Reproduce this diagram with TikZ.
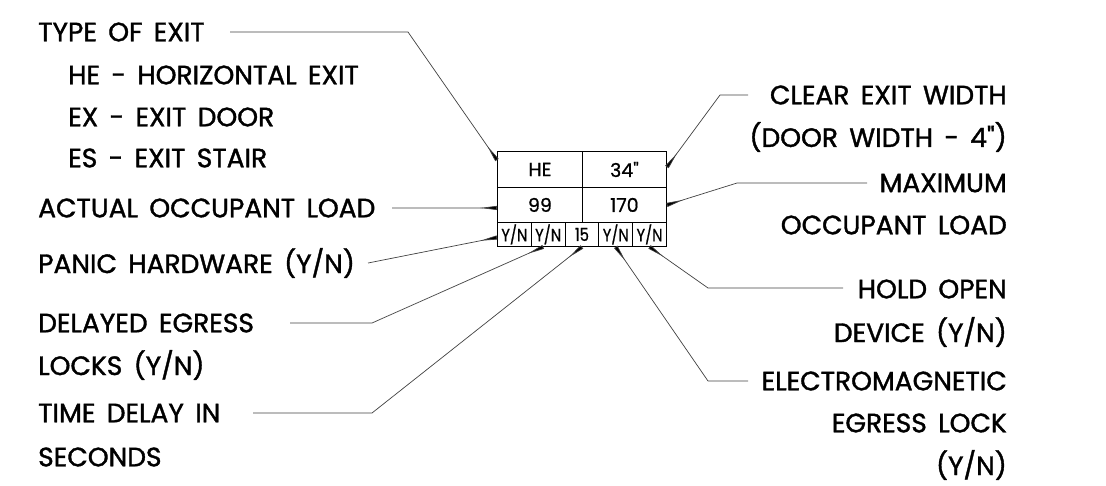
\documentclass[tikz,border=0pt]{standalone}
\usepackage{fontspec}
\setmainfont{Poppins}
\newfontfamily\lblfont{Poppins}[FakeBold=1.4,WordSpace=1.6]
\newfontfamily\boxfont{Poppins}[FakeBold=0.8]
\usetikzlibrary{arrows.meta}
\begin{document}
\begin{tikzpicture}[x=1pt,y=-1pt,
  lbl/.style={font=\lblfont\fontsize{26.5}{29}\selectfont, inner sep=0pt},
  cell/.style={draw=black, line width=0.9pt, inner sep=0pt, font=\boxfont\fontsize{19}{20}\selectfont},
  small/.style={draw=black, line width=0.9pt, inner sep=0pt, minimum width=33.8pt, minimum height=24pt, font=\boxfont\fontsize{18}{19}\selectfont},
  leader/.style={draw=black!75, line width=0.7pt, -{Triangle[reversed,length=17pt,width=4pt,fill=black]}}
]
\useasboundingbox (0,0) rectangle (1106,485);
% table
\node[cell, minimum width=85pt, minimum height=36pt, anchor=north west] (he) at (497,151) {HE};
\node[cell, minimum width=84pt, minimum height=36pt, anchor=north west] (w34) at (582,151) {34"};
\node[cell, minimum width=85pt, minimum height=35pt, anchor=north west] (a99) at (497,187) {99};
\node[cell, minimum width=84pt, minimum height=35pt, anchor=north west] (m170) at (582,187) {170};
\node[small, anchor=north west] (c1) at (497,222) {\scalebox{0.82}[1]{Y/N}};
\node[small, anchor=north west] (c2) at (530.8,222) {\scalebox{0.82}[1]{Y/N}};
\node[small, anchor=north west] (c3) at (564.6,222) {\scalebox{0.82}[1]{15}};
\node[small, anchor=north west] (c4) at (598.4,222) {\scalebox{0.82}[1]{Y/N}};
\node[small, anchor=north west] (c5) at (632.2,222) {\scalebox{0.82}[1]{Y/N}};
% left labels
\node[lbl, anchor=west] (typ) at (38,32) {TYPE OF EXIT};
\node[lbl, anchor=west] (he1) at (68,75) {HE - HORIZONTAL EXIT};
\node[lbl, anchor=west] (ex1) at (68,117) {EX - EXIT DOOR};
\node[lbl, anchor=west] (es1) at (68,158) {ES - EXIT STAIR};
\node[lbl, anchor=west] (act) at (38,208) {ACTUAL OCCUPANT LOAD};
\node[lbl, anchor=west] (pan) at (38,263) {PANIC HARDWARE (Y/N)};
\node[lbl, anchor=west] (del) at (38,323) {DELAYED EGRESS};
\node[lbl, anchor=west] (del2) at (38,365) {LOCKS (Y/N)};
\node[lbl, anchor=west] (tim) at (38,413) {TIME DELAY IN};
\node[lbl, anchor=west] (tim2) at (38,457) {SECONDS};
% right labels
\node[lbl, anchor=east] (clr) at (1007,95) {CLEAR EXIT WIDTH};
\node[lbl, anchor=east] (clr2) at (1007,137) {(DOOR WIDTH - 4")};
\node[lbl, anchor=east] (mx) at (1007,183) {MAXIMUM};
\node[lbl, anchor=east] (mx2) at (1007,225) {OCCUPANT LOAD};
\node[lbl, anchor=east] (hld) at (1007,289) {HOLD OPEN};
\node[lbl, anchor=east] (hld2) at (1007,332) {DEVICE (Y/N)};
\node[lbl, anchor=east] (el) at (1007,381) {ELECTROMAGNETIC};
\node[lbl, anchor=east] (el2) at (1007,423) {EGRESS LOCK};
\node[lbl, anchor=east] (el3) at (1007,465) {(Y/N)};
% leader start points
\coordinate (typS) at (230,32);
\coordinate (actS) at (392,208);
\coordinate (panS) at (368,263);
\coordinate (delS) at (290,323);
\coordinate (timS) at (253,413);
\coordinate (clrS) at (748,95);
\coordinate (mxS) at (867,183);
\coordinate (hldS) at (843,288);
\coordinate (elS) at (748,381);
% leaders
\draw[leader] (typS) -- (408,32) -- ([yshift=-9pt]he.north west);
\draw[leader] (actS) -- ([yshift=-3pt]a99.west);
\draw[leader] (panS) -- ([yshift=-3pt]c1.west);
\draw[leader] (delS) -- (372,323) -- ([xshift=-5pt]c2.south);
\draw[leader] (timS) -- (372,413) -- (c3.south);
\draw[leader] (clrS) -- (720,95) -- ([yshift=-16pt]w34.north east);
\draw[leader] (mxS) -- (737,183) -- (m170.east);
\draw[leader] (hldS) -- (708,288) -- (c5.south);
\draw[leader] (elS) -- (708,381) -- (c4.south);
\end{tikzpicture}
\end{document}
